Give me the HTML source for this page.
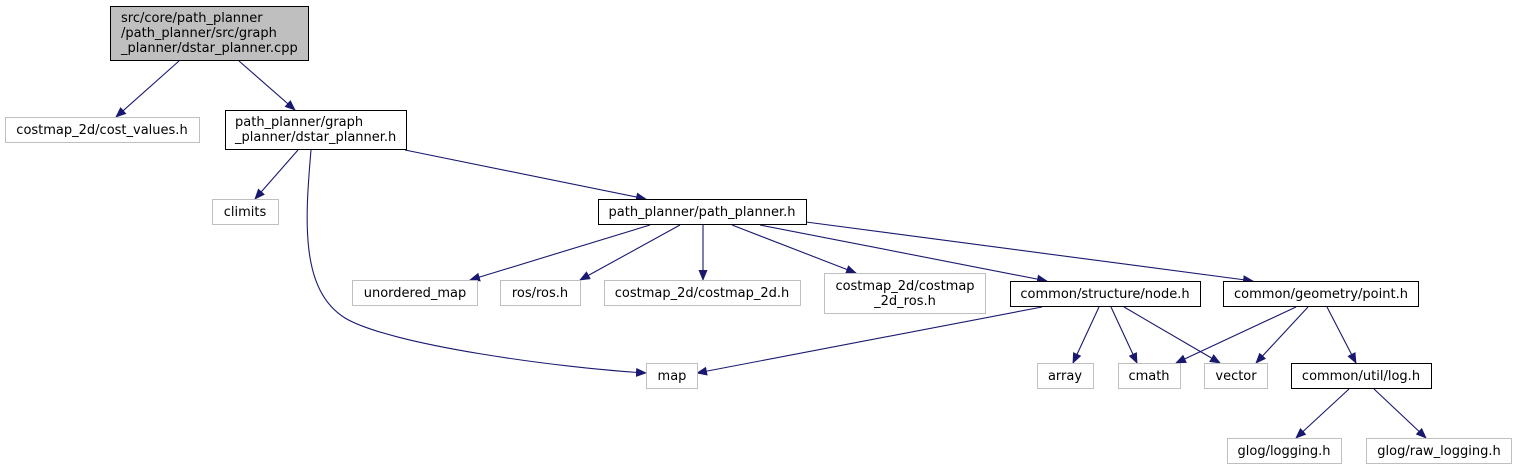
<!DOCTYPE html>
<html><head><style>body{margin:0;background:#fff}svg{display:block}text{font-family:"DejaVu Sans","Liberation Sans",sans-serif;font-size:13px;fill:#000}</style></head><body>
<svg width="1517" height="469" viewBox="0 0 1517 469">
<defs><marker id="a" markerWidth="11" markerHeight="9" refX="10" refY="4.5" orient="auto" markerUnits="userSpaceOnUse"><path d="M0,0 L11,4.5 L0,9z" fill="#191970"/></marker></defs>
<g fill="none" stroke="#191970" stroke-width="1.1" marker-end="url(#a)">
<path d="M179,61 L116,117"/>
<path d="M239,61 L295,110"/>
<path d="M298,150 L255,199"/>
<path d="M405,150 L646,199"/>
<path d="M311,150 C305,220 300,290 345,318 C390,345 560,368 646,373"/>
<path d="M650,225 L470,280"/>
<path d="M680,225 L580,280"/>
<path d="M703,225 L703,280"/>
<path d="M732,225 L856,273"/>
<path d="M760,225 L1047,281"/>
<path d="M806,222 L1253,281"/>
<path d="M1042,307 L697,373"/>
<path d="M1099,307 L1073,363"/>
<path d="M1111,307 L1137,363"/>
<path d="M1124,307 L1220,363"/>
<path d="M1296,307 L1176,363"/>
<path d="M1308,307 L1256,363"/>
<path d="M1327,307 L1356,363"/>
<path d="M1349,389 L1296,438"/>
<path d="M1374,389 L1426,438"/>
</g>
<g stroke-width="1" fill="#fff">
<rect x="110.5" y="6.5" width="198" height="54" fill="#bfbfbf" stroke="#000"/>
<rect x="5.5" y="117.5" width="194" height="25" stroke="#bfbfbf"/>
<rect x="225.5" y="110.5" width="181" height="39" stroke="#000"/>
<rect x="212.5" y="199.5" width="66" height="25" stroke="#bfbfbf"/>
<rect x="598.5" y="199.5" width="208" height="25" stroke="#000"/>
<rect x="352.5" y="280.5" width="125" height="25" stroke="#bfbfbf"/>
<rect x="500.5" y="280.5" width="80" height="25" stroke="#bfbfbf"/>
<rect x="604.5" y="280.5" width="196" height="25" stroke="#bfbfbf"/>
<rect x="824.5" y="273.5" width="161" height="40" stroke="#bfbfbf"/>
<rect x="1010.5" y="281.5" width="190" height="25" stroke="#000"/>
<rect x="1223.5" y="281.5" width="195" height="25" stroke="#000"/>
<rect x="646.5" y="363.5" width="51" height="25" stroke="#bfbfbf"/>
<rect x="1037.5" y="363.5" width="56" height="25" stroke="#bfbfbf"/>
<rect x="1118.5" y="363.5" width="62" height="25" stroke="#bfbfbf"/>
<rect x="1204.5" y="363.5" width="63" height="25" stroke="#bfbfbf"/>
<rect x="1291.5" y="363.5" width="140" height="25" stroke="#000"/>
<rect x="1227.5" y="438.5" width="114" height="25" stroke="#bfbfbf"/>
<rect x="1366.5" y="438.5" width="145" height="25" stroke="#bfbfbf"/>
</g>
<text x="121" y="22">src/core/path_planner</text>
<text x="121" y="37">/path_planner/src/graph</text>
<text x="121" y="52">_planner/dstar_planner.cpp</text>
<text x="102" y="134" text-anchor="middle">costmap_2d/cost_values.h</text>
<text x="235" y="126">path_planner/graph</text>
<text x="235" y="141">_planner/dstar_planner.h</text>
<text x="245" y="216" text-anchor="middle">climits</text>
<text x="702" y="216" text-anchor="middle">path_planner/path_planner.h</text>
<text x="415" y="297" text-anchor="middle">unordered_map</text>
<text x="540" y="297" text-anchor="middle">ros/ros.h</text>
<text x="702" y="297" text-anchor="middle">costmap_2d/costmap_2d.h</text>
<text x="905" y="290" text-anchor="middle">costmap_2d/costmap</text>
<text x="905" y="305" text-anchor="middle">_2d_ros.h</text>
<text x="1105" y="298" text-anchor="middle">common/structure/node.h</text>
<text x="1321" y="298" text-anchor="middle">common/geometry/point.h</text>
<text x="672" y="380" text-anchor="middle">map</text>
<text x="1065" y="380" text-anchor="middle">array</text>
<text x="1149" y="380" text-anchor="middle">cmath</text>
<text x="1236" y="380" text-anchor="middle">vector</text>
<text x="1361" y="380" text-anchor="middle">common/util/log.h</text>
<text x="1284" y="455" text-anchor="middle">glog/logging.h</text>
<text x="1439" y="455" text-anchor="middle">glog/raw_logging.h</text>
</svg>
</body></html>
